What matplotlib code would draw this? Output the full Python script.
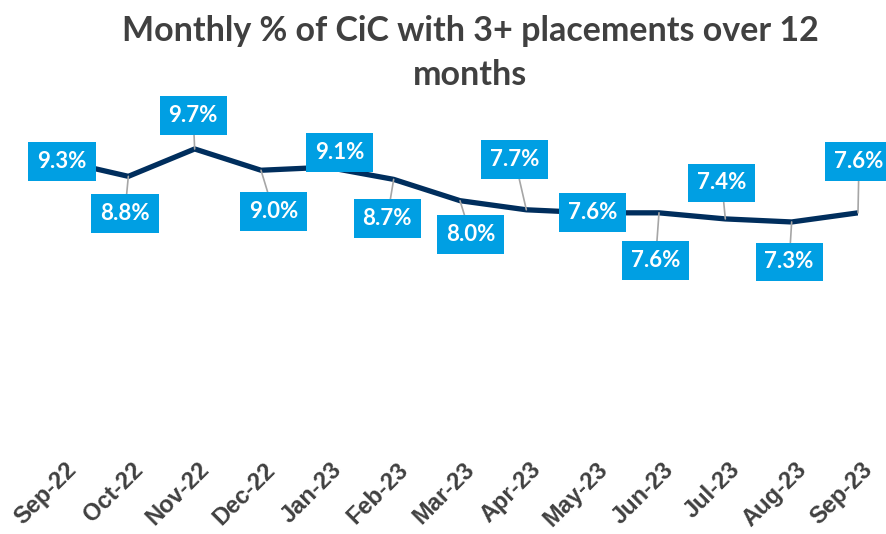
import matplotlib
matplotlib.use("Agg")
import matplotlib.pyplot as plt
import matplotlib.transforms as mtransforms

months = ["Sep-22", "Oct-22", "Nov-22", "Dec-22", "Jan-23", "Feb-23", "Mar-23",
          "Apr-23", "May-23", "Jun-23", "Jul-23", "Aug-23", "Sep-23"]
values = [9.3, 8.8, 9.7, 9.0, 9.1, 8.7, 8.0, 7.7, 7.6, 7.6, 7.4, 7.3, 7.6]
title = "Monthly % of CiC with 3+ placements over 12\nmonths"

# label box offsets from each point, in pixels (layout only)
label_offsets = [(0, 0), (-3.5, -37), (-1.5, 33.5), (12.5, -41), (12.5, 15),
                 (-6.5, -39), (10.5, -34), (-11.5, 50), (0, 0), (-3.5, -48),
                 (-3.5, 36), (-2.5, -40), (1, 51.5)]

W, H, DPI = 887, 534, 100
fig = plt.figure(figsize=(W / DPI, H / DPI), dpi=DPI)
left, right = 62 / W, 858 / W
bottom = 1 - 444 / H
top = 1 - 79 / H
ax = fig.add_axes([left, bottom, right - left, top - bottom])

x = list(range(len(months)))
ax.plot(x, values, color="#002E5D", lw=3.8, solid_capstyle="round",
        solid_joinstyle="round", zorder=2)

ax.set_xlim(0, len(months) - 1)
ax.set_ylim(0, 12)
for s in ax.spines.values():
    s.set_visible(False)
ax.set_yticks([])
ax.set_xticks(x)
ax.set_xticklabels(months, rotation=45, ha="right", va="top",
                   rotation_mode="anchor", fontsize=17, fontweight="bold",
                   color="#404040", family="Liberation Sans")
ax.tick_params(axis="x", length=0, pad=10)
offset = mtransforms.ScaledTranslation(3 / DPI, 0, fig.dpi_scale_trans)
for lab in ax.get_xticklabels():
    lab.set_transform(lab.get_transform() + offset)

for xi, v, (dx, dy) in zip(x, values, label_offsets):
    ax.annotate(f"{v:.1f}%", xy=(xi, v), xytext=(dx, dy),
                textcoords="offset pixels", ha="center", va="center",
                fontsize=16, fontweight="bold", color="white", family="Lato",
                bbox=dict(boxstyle="square,pad=0.4", fc="#009FE3", ec="none"),
                arrowprops=dict(arrowstyle="-", color="#A6A6A6", lw=1.2,
                                shrinkA=0, shrinkB=0),
                zorder=3, annotation_clip=False)

fig.text(0.53, 0.972, title, ha="center", va="top", fontsize=24.5,
         fontweight="bold", color="#404040", family="Lato", linespacing=1.45)

fig.savefig("out.png", dpi=DPI)
